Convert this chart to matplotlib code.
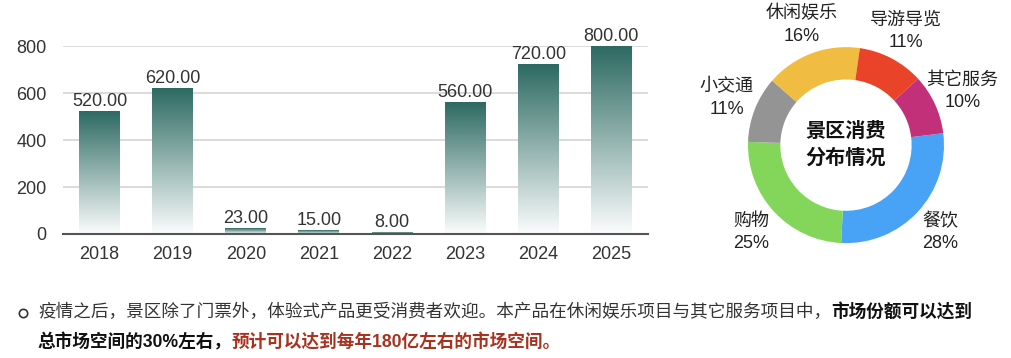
import numpy as np
import matplotlib
matplotlib.use('Agg')
import matplotlib.pyplot as plt
from matplotlib.colors import LinearSegmentedColormap
from matplotlib.lines import Line2D

plt.rcParams['font.family'] = ['Liberation Sans', 'Noto Sans CJK SC', 'DejaVu Sans']

# bar chart data
years = ['2018', '2019', '2020', '2021', '2022', '2023', '2024', '2025']
values = [520, 620, 23, 15, 8, 560, 720, 800]
y_ticks = [0, 200, 400, 600, 800]

# donut data
cats = ['餐饮', '购物', '小交通', '休闲娱乐', '导游导览', '其它服务']
shares = [28, 25, 11, 16, 11, 10]
colors = ['#48a2f6', '#84d65a', '#949494', '#f0bc42', '#e9432a', '#c2307a']

fig = plt.figure(figsize=(10.12, 3.58), dpi=100)

# ---- bar chart with vertical gradient
ax = fig.add_axes([0.0623, 0.3464, 0.578, 0.525])
x = np.arange(len(years))
bars = ax.bar(x, values, width=0.56, color='none', zorder=2)
cmap = LinearSegmentedColormap.from_list('teal', ['#fbfdfd', '#2d6a62'])
grad = np.linspace(0, 1, 256).reshape(-1, 1)
for b in bars:
    x0, w, h = b.get_x(), b.get_width(), b.get_height()
    ax.imshow(grad, extent=[x0, x0 + w, 0, h], origin='lower', cmap=cmap,
              aspect='auto', zorder=2)
ax.bar_label(bars, labels=[f'{v:.2f}' for v in values], padding=1,
             fontsize=13, color='#333333', clip_on=False)
ax.set_xlim(-0.5, len(years) - 0.5)
ax.set_ylim(0, 800)
ax.set_xticks(x, years)
ax.set_yticks(y_ticks)
ax.grid(axis='y', color='#d4d4d4', linewidth=1.2, zorder=0)
ax.set_axisbelow(True)
for s in ['top', 'right', 'left']:
    ax.spines[s].set_visible(False)
ax.spines['bottom'].set_color('#555555')
ax.spines['bottom'].set_linewidth(1.5)
ax.spines['bottom'].set_zorder(3)
ax.tick_params(length=0, labelsize=13, labelcolor='#333333')
ax.tick_params(axis='x', pad=9)
ax.tick_params(axis='y', pad=12)

# ---- donut chart
pax = fig.add_axes([0.6907, 0.184, 0.2905, 0.8212])
wedges, _ = pax.pie(shares, colors=colors, startangle=7, counterclock=False,
                    radius=1, wedgeprops=dict(width=0.33, edgecolor='none'))
for w, c, s in zip(wedges, cats, shares):
    mid = np.deg2rad((w.theta1 + w.theta2) / 2)
    pax.text(1.31 * np.cos(mid), 1.31 * np.sin(mid), f'{c}\n{s}%',
             ha='center', va='center', fontsize=13, color='#222222',
             linespacing=1.4)
pax.text(0, 0, '景区消费\n分布情况', ha='center', va='center', fontsize=14.5,
         fontweight='bold', color='#111111', linespacing=1.45)
pax.set_xlim(-1.5, 1.5)
pax.set_ylim(-1.5, 1.5)
pax.set_aspect('equal')
pax.axis('off')

# ---- footer text
fs = 12.7
fig.add_artist(Line2D([0.0227], [1 - 313 / 358], marker='o', markersize=6,
                      markerfacecolor='white', markeredgecolor='#333333',
                      markeredgewidth=1.2, transform=fig.transFigure))
t1 = fig.text(0.0375, 1 - 312 / 358,
              '疫情之后，景区除了门票外，体验式产品更受消费者欢迎。本产品在休闲娱乐项目与其它服务项目中，',
              fontsize=fs, color='#333333', va='center')
plt.annotate('市场份额可以达到', xy=(1, 0.5), xycoords=t1, va='center',
             ha='left', fontsize=fs, fontweight='bold', color='#111111',
             annotation_clip=False)
t2 = fig.text(0.0375, 1 - 342 / 358, '总市场空间的30%左右，', fontsize=fs,
              fontweight='bold', color='#111111', va='center')
plt.annotate('预计可以达到每年180亿左右的市场空间。', xy=(1, 0.5), xycoords=t2,
             va='center', ha='left', fontsize=fs, fontweight='bold',
             color='#a8321e', annotation_clip=False)

fig.savefig('out.png', dpi=100)
